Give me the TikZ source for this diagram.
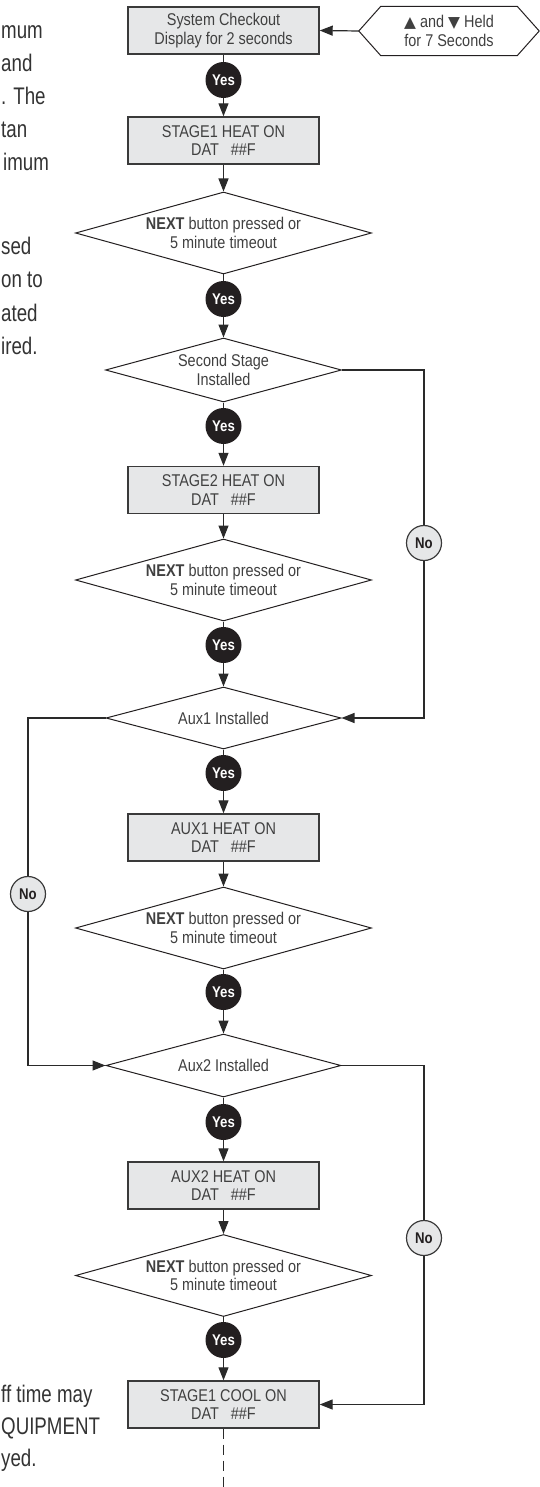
\documentclass[tikz,border=0pt]{standalone}
\usepackage{fontspec}
\setmainfont{Liberation Sans}[FakeStretch=0.85]
\newfontfamily\sidefont{Liberation Sans}[FakeStretch=0.78]
\newfontfamily\symfont{DejaVu Sans}
\usetikzlibrary{arrows.meta,shapes.geometric}
\definecolor{boxfill}{HTML}{E6E7E8}
\definecolor{boxline}{HTML}{3A3A3A}
\definecolor{dline}{HTML}{231F20}
\definecolor{lineclr}{HTML}{2A2A2A}
\definecolor{yesfill}{HTML}{231F20}
\definecolor{txt}{HTML}{404040}
\definecolor{sidetxt}{HTML}{333333}
\begin{document}
\begin{tikzpicture}[x=1pt,y=-1pt,
  every node/.style={font=\fontsize{17}{18.5}\selectfont, text=txt},
  box/.style={draw=boxline, line width=1.4pt, fill=boxfill, minimum width=191pt, minimum height=47pt, inner sep=0pt, align=center},
  dia/.style={diamond, draw=dline, line width=1pt, fill=white, inner sep=0pt, align=center, aspect=3.6},
  bigdia/.style={dia, minimum width=296pt, minimum height=82pt},
  smalldia/.style={dia, minimum width=235pt, minimum height=63pt},
  yes/.style={circle, fill=yesfill, minimum size=36pt, inner sep=0pt, text=white, font=\bfseries\fontsize{15.5}{15.5}\selectfont},
  no/.style={circle, draw=boxline, line width=1.2pt, fill=boxfill, minimum size=35pt, inner sep=0pt, text=dline, font=\bfseries\fontsize{15.5}{15.5}\selectfont},
  conn/.style={draw=lineclr, line width=1.2pt},
  arr/.style={conn, -{Triangle[length=13pt,width=10pt]}},
  side/.style={font=\sidefont\fontsize{24}{28}\selectfont, text=sidetxt, inner sep=0pt, anchor=base west}
]
\useasboundingbox (0,0) rectangle (540,1487);

% side text fragments
\node[side] (s1) at (1,39) {mum};
\node[side] (s2) at (1,72) {and};
\node[side] (s3) at (1,105) {. The};
\node[side] (s4) at (1,138) {tan};
\node[side] (s5) at (3,171) {imum};
\node[side] (s6) at (1,255) {sed};
\node[side] (s7) at (1,288) {on to};
\node[side] (s8) at (1,321) {ated};
\node[side] (s9) at (1,354) {ired.};
\node[side] (s10) at (1,1402) {ff time may};
\node[side] (s11) at (1,1434) {QUIPMENT};
\node[side] (s12) at (1,1466) {yed.};

% main column
\node[box] (b1) at (223.5,30.5) {System Checkout\\Display for 2 seconds};
\node[yes] (y1) at (223.5,80) {Yes};
\node[box] (b2) at (223.5,140.5) {STAGE1 HEAT ON\\DAT\hspace{0.7em}\#\#F};
\node[bigdia] (d1) at (223.5,233) {\textbf{NEXT} button pressed or\\5 minute timeout};
\node[yes] (y2) at (223.5,299) {Yes};
\node[dia, minimum width=236pt, minimum height=64pt] (d2) at (223.5,370) {Second Stage\\Installed};
\node[yes] (y3) at (223.5,426) {Yes};
\node[box] (b3) at (223.5,490) {STAGE2 HEAT ON\\DAT\hspace{0.7em}\#\#F};
\node[bigdia] (d3) at (223.5,580) {\textbf{NEXT} button pressed or\\5 minute timeout};
\node[yes] (y4) at (223.5,645) {Yes};
\node[smalldia, minimum height=62pt] (d4) at (223.5,718) {Aux1 Installed};
\node[yes] (y5) at (223.5,773) {Yes};
\node[box] (b4) at (223.5,837.5) {AUX1 HEAT ON\\DAT\hspace{0.7em}\#\#F};
\node[bigdia] (d5) at (223.5,928) {\textbf{NEXT} button pressed or\\5 minute timeout};
\node[yes] (y6) at (223.5,992) {Yes};
\node[smalldia] (d6) at (223.5,1065.5) {Aux2 Installed};
\node[yes] (y7) at (223.5,1122) {Yes};
\node[box] (b5) at (223.5,1185.5) {AUX2 HEAT ON\\DAT\hspace{0.7em}\#\#F};
\node[bigdia] (d7) at (223.5,1275.5) {\textbf{NEXT} button pressed or\\5 minute timeout};
\node[yes] (y8) at (223.5,1340) {Yes};
\node[box] (b6) at (223.5,1404.5) {STAGE1 COOL ON\\DAT\hspace{0.7em}\#\#F};
\coordinate (end) at (223.5,1487);

% hexagon start
\node[minimum width=180pt, minimum height=49pt, inner sep=0pt, align=center] (hx) at (449,31)
  {{\symfont\fontsize{15.5}{18.5}\selectfont ▲} and {\symfont\fontsize{15.5}{18.5}\selectfont ▼} Held\\for 7 Seconds};
\draw[draw=dline, line width=1pt] (hx.west) -- ([xshift=22pt]hx.north west) -- ([xshift=-22pt]hx.north east)
  -- (hx.east) -- ([xshift=-22pt]hx.south east) -- ([xshift=22pt]hx.south west) -- cycle;

% No nodes
\node[no] (n1) at (424,543) {No};
\node[no] (n2) at (28,894) {No};
\node[no] (n3) at (424,1238) {No};

% connectors
\draw[arr] (hx.west) -- (b1.east);
\draw[conn] (b1.south) -- (y1.north);
\draw[arr] (y1.south) -- (b2.north);
\draw[arr] (b2.south) -- (d1.north);
\draw[conn] (d1.south) -- (y2.north);
\draw[arr] (y2.south) -- (d2.north);
\draw[conn] (d2.south) -- (y3.north);
\draw[arr] (y3.south) -- (b3.north);
\draw[arr] (b3.south) -- (d3.north);
\draw[conn] (d3.south) -- (y4.north);
\draw[arr] (y4.south) -- (d4.north);
\draw[conn] (d4.south) -- (y5.north);
\draw[arr] (y5.south) -- (b4.north);
\draw[arr] (b4.south) -- (d5.north);
\draw[conn] (d5.south) -- (y6.north);
\draw[arr] (y6.south) -- (d6.north);
\draw[conn] (d6.south) -- (y7.north);
\draw[arr] (y7.south) -- (b5.north);
\draw[arr] (b5.south) -- (d7.north);
\draw[conn] (d7.south) -- (y8.north);
\draw[arr] (y8.south) -- (b6.north);
\draw[conn, dash pattern=on 10pt off 6pt] (b6.south) -- (end);

\draw[conn] (d2.east) -| (n1.north);
\draw[arr] (n1.south) |- (d4.east);
\draw[conn] (d4.west) -| (n2.north);
\draw[arr] (n2.south) |- (d6.west);
\draw[conn] (d6.east) -| (n3.north);
\draw[arr] (n3.south) |- (b6.east);
\end{tikzpicture}
\end{document}
